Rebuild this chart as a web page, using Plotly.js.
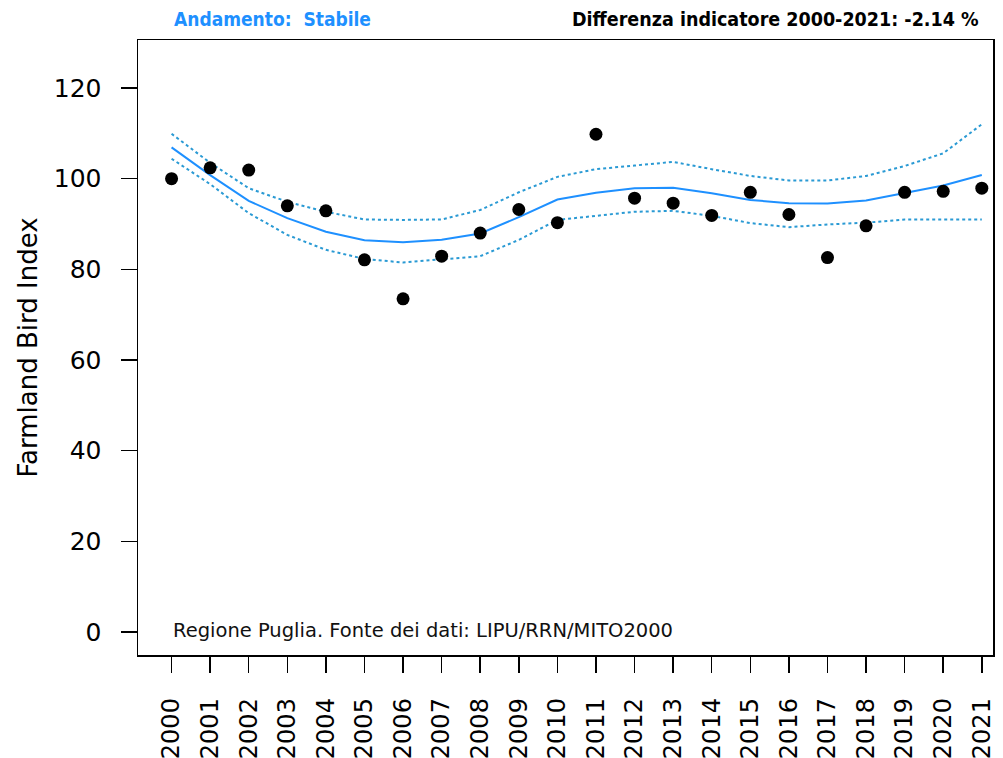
<!DOCTYPE html>
<html>
<head>
<meta charset="utf-8">
<script src="https://cdn.plot.ly/plotly-3.0.1.min.js"></script>
<style>html,body{margin:0;padding:0;background:#fff;}#chart{width:1003px;height:758px;}</style>
</head>
<body>
<div id="chart"></div>
<script>
var years = [2000,2001,2002,2003,2004,2005,2006,2007,2008,2009,2010,2011,2012,2013,2014,2015,2016,2017,2018,2019,2020,2021];
var yearLabels = ["2000","2001","2002","2003","2004","2005","2006","2007","2008","2009","2010","2011","2012","2013","2014","2015","2016","2017","2018","2019","2020","2021"];
var indexValues = [100, 102.4, 101.9, 94.0, 92.9, 82.1, 73.5, 82.9, 88.0, 93.2, 90.3, 109.8, 95.7, 94.6, 91.9, 97.0, 92.1, 82.6, 89.6, 97.0, 97.2, 97.9];
var trendValues = [106.9, 100.8, 95.1, 91.3, 88.3, 86.4, 86.0, 86.5, 87.9, 91.5, 95.4, 96.9, 97.9, 98.0, 96.8, 95.3, 94.6, 94.5, 95.2, 96.9, 98.5, 100.8];
var upperValues = [109.9, 103.5, 97.9, 94.9, 92.7, 91.0, 90.9, 91.0, 93.1, 97.0, 100.4, 102.1, 102.9, 103.7, 102.1, 100.6, 99.6, 99.6, 100.6, 102.8, 105.6, 112.0];
var lowerValues = [104.4, 98.8, 92.4, 87.6, 84.3, 82.3, 81.5, 82.2, 82.9, 86.5, 90.9, 91.8, 92.7, 92.9, 91.8, 90.2, 89.3, 89.9, 90.3, 91.0, 91.0, 91.0];
var yTicks = [0, 20, 40, 60, 80, 100, 120];
var trendLabel = "Andamento:  Stabile";
var diffLabel = "Differenza indicatore 2000-2021: -2.14 %";
var sourceLabel = "Regione Puglia. Fonte dei dati: LIPU/RRN/MITO2000";
var yTitle = "Farmland Bird Index";

var blue = "#1E90FF";
var dotBlue = "#2a9ad4";
var baseFont = "DejaVu Sans, Verdana, sans-serif";
var condFont = "DejaVu Sans Condensed, DejaVu Sans, sans-serif";

var traces = [
  {x: years, y: upperValues, mode: "lines", line: {color: dotBlue, width: 2, dash: "dot"}, hoverinfo: "skip"},
  {x: years, y: lowerValues, mode: "lines", line: {color: dotBlue, width: 2, dash: "dot"}, hoverinfo: "skip"},
  {x: years, y: trendValues, mode: "lines", line: {color: blue, width: 2}},
  {x: years, y: indexValues, mode: "markers", marker: {color: "#000", size: 13}}
];

var layout = {
  width: 1003, height: 758,
  margin: {l: 138, r: 10, t: 40, b: 103, pad: 0},
  paper_bgcolor: "#fff", plot_bgcolor: "#fff",
  showlegend: false,
  font: {family: baseFont, color: "#000"},
  xaxis: {
    range: [1999.13, 2021.29],
    tickvals: years, ticktext: yearLabels,
    tickangle: -90,
    ticks: "outside", ticklen: 16, tickwidth: 1.5, tickcolor: "#000",
    tickfont: {family: baseFont, size: 24, color: "#000"},
    ticklabelstandoff: 16,
    showline: true, linecolor: "#000", linewidth: 1.5, mirror: true,
    showgrid: false, zeroline: false
  },
  yaxis: {
    range: [-5.1, 130.6],
    tickvals: yTicks,
    ticks: "outside", ticklen: 16, tickwidth: 1.5, tickcolor: "#000",
    tickfont: {family: baseFont, size: 25, color: "#000"},
    ticklabelstandoff: 14,
    showline: true, linecolor: "#000", linewidth: 1.5, mirror: true,
    showgrid: false, zeroline: false,
    title: {text: yTitle, font: {family: baseFont, size: 26, color: "#000"}, standoff: 8}
  },
  annotations: [
    {xref: "paper", yref: "paper", x: 0.04, y: 1.0, yshift: 21, xanchor: "left", yanchor: "middle",
     text: trendLabel, showarrow: false, font: {family: condFont, size: 19, color: blue, weight: "bold"}},
    {xref: "paper", yref: "paper", x: 0.986, y: 1.0, yshift: 21, xanchor: "right", yanchor: "middle",
     text: diffLabel, showarrow: false, font: {family: condFont, size: 19.5, color: "#000", weight: "bold"}},
    {xref: "paper", yref: "paper", x: 0.039, y: 0, yshift: 25, xanchor: "left", yanchor: "middle",
     text: sourceLabel, showarrow: false, font: {family: baseFont, size: 19.5, color: "#111"}}
  ]
};

Plotly.newPlot("chart", traces, layout, {displayModeBar: false, staticPlot: true});
</script>
</body>
</html>
